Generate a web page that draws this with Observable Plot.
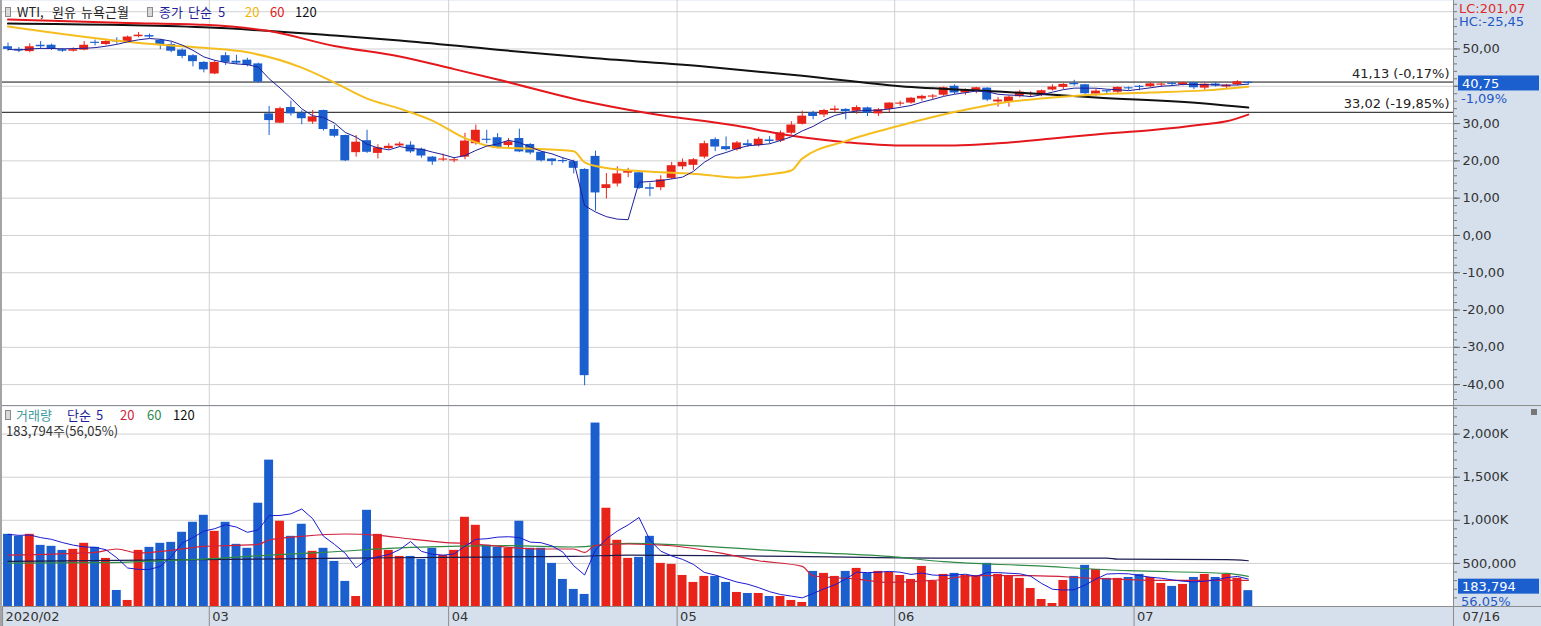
<!DOCTYPE html>
<html><head><meta charset="utf-8">
<script src="https://cdn.jsdelivr.net/npm/d3@7"></script>
<script src="https://cdn.jsdelivr.net/npm/@observablehq/plot@0.6"></script>
<style>
body{margin:0;background:#fff;}
#wrap{position:relative;width:1541px;height:626px;overflow:hidden;background:#fff;font-family:'DejaVu Sans','Noto Sans CJK KR',sans-serif;}
.abs{position:absolute;}
.ov{position:absolute;font-size:13px;white-space:nowrap;line-height:13px;font-family:'Noto Sans CJK KR','DejaVu Sans',sans-serif;z-index:5;}
.num{font-family:'DejaVu Sans','Noto Sans CJK KR',sans-serif;font-size:13px;line-height:13px;}
.ico{position:absolute;width:4px;height:8px;border:1px solid #8a8a8a;background:#d8d8d8;z-index:5;}
.ln{position:absolute;background:#8c8c8c;z-index:6;}
</style></head>
<body><div id="wrap">
  <div id="price" class="abs" style="left:0;top:0"></div>
  <div id="vol" class="abs" style="left:0;top:406px"></div>
  <div id="dates" class="abs" style="left:0;top:607px"></div>

  <div class="ln" style="left:0;top:405px;width:1541px;height:1px"></div>
  <div class="ln" style="left:0;top:606px;width:1541px;height:1px"></div>
  <div class="ln" style="left:1453px;top:0;width:1px;height:626px"></div>
  <div class="ln" style="left:0;top:0;width:2px;height:626px;background:#a4a4a4"></div>

  <div class="ico" style="left:5px;top:7px"></div>
  <div class="ov" style="left:17px;top:5px;color:#222">WTI,</div>
  <div class="ov" style="left:52px;top:5px;color:#222">원유</div>
  <div class="ov" style="left:81px;top:5px;color:#222">뉴욕근월</div>
  <div class="ico" style="left:147px;top:7px"></div>
  <div class="ov" style="left:159px;top:5px;color:#1f1f9a">종가</div>
  <div class="ov" style="left:188px;top:5px;color:#1f1f9a">단순</div>
  <div class="ov" style="left:218px;top:5px;color:#1f1f9a">5</div>
  <div class="ov" style="left:245px;top:5px;color:#f0b400">20</div>
  <div class="ov" style="left:270px;top:5px;color:#e02020">60</div>
  <div class="ov" style="left:295px;top:5px;color:#111">120</div>

  <div class="ov num" style="left:1459px;top:2px;color:#e02828">LC:201,07</div>
  <div class="ov num" style="left:1459px;top:15px;color:#2458c8">HC:-25,45</div>

  <div class="ico" style="left:5px;top:410px"></div>
  <div class="ov" style="left:16px;top:408px;color:#3d9a9a">거래량</div>
  <div class="ov" style="left:67px;top:408px;color:#1f1f9a">단순</div>
  <div class="ov" style="left:96px;top:408px;color:#1f1f9a">5</div>
  <div class="ov" style="left:120px;top:408px;color:#d0203a">20</div>
  <div class="ov" style="left:147px;top:408px;color:#2e8a50">60</div>
  <div class="ov" style="left:173px;top:408px;color:#111">120</div>
  <div class="ov" id="volinfo" style="left:6px;top:424px;color:#333"></div>
  <div class="abs" style="left:1531px;top:409px;width:6px;height:6px;background:#777;z-index:6"></div>
</div>
<script>
const RED = "#e8241a", BLUE = "#1b5fcf";
const W = 1541, MR = 88;
const X_DOMAIN = [-0.69, 132.86];
const FONT = "font:13px 'DejaVu Sans','Noto Sans CJK KR',sans-serif;";

// ---- price data (bar index 0 = 2020-02-03 ... 114 = 2020-07-16) ----
const open = [50.6,49.9,49.3,51.0,51.0,49.8,49.4,49.7,51.8,51.2,
  52.3,51.9,53.3,53.6,52.3,51.2,49.7,48.2,46.4,43.3,
  48.2,46.7,47.0,46.0,32.6,30.1,34.3,32.8,30.4,33.5,
  28.4,26.8,22.2,25.4,22.0,23.3,24.0,24.2,23.1,21.0,
  20.2,20.0,21.0,24.6,25.8,26.2,24.1,26.0,24.4,22.3,
  20.5,20.1,19.8,17.7,21.2,12.6,13.8,16.7,16.8,12.8,
  12.8,15.3,18.4,18.8,21.0,25.7,23.8,23.0,24.6,24.1,
  25.6,25.3,27.4,29.8,32.9,32.3,33.5,33.8,33.3,34.2,
  32.6,33.8,35.3,35.5,36.6,37.1,37.6,40.0,38.2,38.9,
  39.5,35.8,35.7,37.2,37.8,37.8,39.0,39.7,40.8,40.4,
  37.9,38.8,38.4,39.6,39.9,39.9,40.3,40.7,40.4,40.9,
  39.5,40.6,39.8,40.4,41.1];
const high = [51.6,50.4,51.4,52.0,51.3,50.1,50.3,52.0,52.4,52.6,
  53.0,53.5,54.4,54.0,52.6,51.8,50.0,48.5,46.6,46.8,
  49.0,48.3,47.5,46.2,34.6,34.4,36.0,33.4,33.5,33.6,
  29.5,26.9,26.8,28.2,24.3,24.6,25.0,25.1,23.4,21.2,
  21.8,20.8,27.4,29.6,28.2,27.3,26.0,28.5,24.6,22.4,
  20.6,20.8,20.2,17.9,22.6,16.6,18.4,18.0,17.2,14.0,
  16.0,19.6,20.5,20.6,25.3,26.2,26.4,25.2,25.6,26.3,
  26.5,28.0,30.5,33.3,33.3,33.8,34.7,34.0,34.8,34.4,
  34.0,35.6,36.0,37.0,37.6,37.8,39.8,40.4,39.3,39.7,
  39.6,37.0,37.4,38.9,38.5,39.0,40.4,40.7,41.6,40.5,
  39.2,38.9,39.8,39.8,40.2,41.0,40.9,41.0,41.1,41.0,
  40.7,41.0,40.5,41.5,41.2];
const low = [49.4,49.0,49.0,49.9,49.6,49.1,49.2,49.5,50.8,50.9,
  51.3,51.6,53.0,52.8,49.8,49.0,47.4,45.2,43.6,43.1,
  45.6,45.8,45.2,40.8,26.8,30.0,32.0,29.7,29.8,28.0,
  26.2,19.8,21.0,22.0,20.5,23.0,23.6,22.0,20.7,18.8,
  19.8,19.5,20.3,24.2,24.6,23.2,23.6,22.2,21.6,19.7,
  18.7,19.3,16.5,-40.3,6.5,9.8,13.0,15.5,12.3,10.4,
  12.0,15.0,17.6,17.4,20.5,22.5,22.6,22.6,23.6,23.7,
  24.5,24.9,27.0,29.6,31.0,31.6,32.9,31.0,32.5,31.9,
  31.9,32.9,34.6,35.2,36.0,36.4,37.3,37.8,37.6,38.0,
  35.9,34.4,34.4,36.9,37.0,37.2,38.7,39.1,40.0,37.8,
  37.3,37.9,37.8,38.9,38.8,39.6,39.7,40.0,40.1,39.1,
  38.9,39.8,39.3,40.1,40.4];
const close = [49.9,49.5,50.6,50.6,50.1,49.4,49.8,51.0,51.5,52.0,
  51.9,53.2,53.7,53.2,51.0,49.4,48.0,46.6,44.4,46.4,
  46.4,46.2,45.6,41.1,30.8,34.0,32.6,31.3,31.8,28.4,
  26.6,20.0,25.0,22.3,23.5,23.9,24.5,22.4,21.3,19.7,
  20.5,20.3,25.3,28.2,25.5,23.4,25.1,22.4,22.1,20.0,
  19.8,19.8,18.0,-37.6,11.4,13.6,16.5,17.2,12.6,12.4,
  14.9,18.7,19.6,20.3,24.6,23.7,23.0,24.8,24.1,25.8,
  25.2,27.5,29.6,32.0,31.9,33.5,33.9,33.2,34.3,32.8,
  33.7,35.5,35.4,36.8,37.3,37.4,39.6,38.2,38.9,39.6,
  36.3,36.3,37.1,38.4,38.0,38.8,39.8,40.5,40.4,38.0,
  38.7,38.5,39.7,39.3,39.8,40.65,40.6,40.6,40.9,39.6,
  40.55,40.1,40.3,41.2,40.75];
const volume = [837000,814000,837000,709000,698000,651000,663000,733000,686000,558000,
  186000,70000,651000,686000,733000,744000,861000,977000,1058000,872000,
  977000,721000,675000,1198000,1698000,989000,814000,954000,640000,675000,
  523000,291000,116000,1116000,837000,651000,581000,581000,547000,675000,
  593000,651000,1035000,942000,709000,686000,675000,989000,675000,675000,
  500000,314000,198000,140000,2128000,1140000,768000,558000,570000,814000,
  500000,488000,360000,279000,349000,349000,279000,163000,151000,151000,
  116000,116000,70000,47000,407000,384000,349000,407000,442000,384000,
  407000,395000,360000,314000,465000,291000,372000,384000,360000,349000,
  500000,372000,349000,326000,209000,81000,35000,302000,349000,477000,
  430000,326000,326000,337000,372000,337000,267000,233000,256000,337000,
  372000,337000,372000,327900,183794];

// month labels (first bar index of each month)
const monthStart = [0, 19, 41, 62, 82, 104];
const monthLabel = ["2020/02", "03", "04", "05", "06", "07"];
const lastDate = "07/16";

// price moving averages (bar index, value)
const ma20Idx = [0,12,18,22,27,30,33,36,39,42,45,48,52,53,55,58,61,64,67,70,72,73,77,82,87,91,96,100,105,110,114];
const ma20Val = [56.0,51.6,50.3,49.1,45.0,41.0,36.7,34.0,30.8,26.1,23.6,23.3,22.6,19.6,18.1,17.3,16.8,16.3,15.5,16.4,17.4,20.6,25.3,29.5,33.1,35.4,37.0,37.8,38.3,38.9,39.9];
const ma60Idx = [0,11,18,24,30,36,41,45,53,59,67,71,73,77,82,87,91,96,100,105,110,112,114];
const ma60Val = [57.9,57.0,56.5,54.8,50.8,48.0,44.6,41.8,36.0,32.7,29.4,27.2,26.3,25.0,24.1,24.1,24.7,26.0,27.1,28.2,29.8,30.6,32.4];
const ma120Idx = [0,18,30,36,45,54,64,73,82,91,100,110,114];
const ma120Val = [56.8,55.8,53.6,52.3,49.8,47.5,45.3,42.8,40.0,38.6,37.0,35.4,34.3];

// volume moving averages (thousands)
const vma20Idx = [0,8,10,12,15,18,21,23,24,27,31,34,37,40,43,46,49,52,53,54,57,61,66,69,73,74,78,81,85,89,94,100,106,114];
const vma20Val = [597,628,667,620,651,698,709,721,771,814,841,826,783,744,725,686,667,667,628,709,725,705,608,531,465,357,318,279,302,357,357,326,302,302];
const vma60Idx = [0,9,15,18,24,29,37,46,52,57,72,81,86,94,103,112,114];
const vma60Val = [504,510,535,550,597,628,686,705,690,733,636,581,520,473,415,384,349];
const vma120Idx = [0,29,40,52,57,72,86,101,102,112,114];
const vma120Val = [523,558,570,581,597,581,562,562,550,543,531];

// horizontal levels
const levels = [41.13, 33.02];
const priceTicks = [-40,-30,-20,-10,0,10,20,30,40,50];
const priceGrid = [-40,-30,-20,-10,0,10,20,30,40,50,60];
const volTicks = [500000, 1000000, 1500000, 2000000];

// ---- derived tables ----
const idx = d3.range(close.length);
const candles = idx.map(i => {
  const o = open[i], c = close[i];
  let b1 = Math.min(o, c), b2 = Math.max(o, c);
  if (b2 - b1 < 0.3) { const m = (b1 + b2) / 2; b1 = m - 0.15; b2 = m + 0.15; }
  return {i, o, c, h: high[i], l: low[i], b1, b2, x1: i - 0.41, x2: i + 0.41, col: c > o ? RED : BLUE};
});
const vols = idx.map(i => ({i, v: volume[i], z: 0, x1: i - 0.41, x2: i + 0.41, col: candles[i].col}));
const pairs = (a, b, k = 1) => a.map((x, j) => ({i: x, v: b[j] * k}));
const months = monthStart.map((s, j) => ({b: s - 0.5, label: monthLabel[j]}));
const bounds = months.slice(1).map(d => d.b);

const fmt2 = v => v.toFixed(2).replace(".", ",");
const fmtC = d3.format(",");
const lastC = close[close.length - 1], prevC = close[close.length - 2];
const lastV = volume[volume.length - 1], prevV = volume[volume.length - 2];
const levelData = levels.map(v => ({v, label: `${fmt2(v)} (${fmt2((v / prevC - 1) * 100)}%)`}));
const pct = fmt2((lastC / prevC - 1) * 100) + "%";
const vpct = fmt2(lastV / prevV * 100) + "%";
document.getElementById("volinfo").textContent = `${fmtC(lastV)}주(${vpct})`;

function tag(value, label, sub, offset) {
  return (index, scales, values, dims) => {
    const y = scales.y(value) + offset;
    const x0 = dims.width - dims.marginRight + 5;
    const g = d3.create("svg:g").attr("text-anchor", "start");
    g.append("rect").attr("x", x0).attr("y", y - 7.5).attr("width", 81).attr("height", 15).attr("fill", "#1b5fcf");
    g.append("text").attr("text-anchor", "start").attr("x", x0 + 4).attr("y", y).attr("dy", "0.36em").attr("fill", "white").text(label);
    g.append("text").attr("text-anchor", "start").attr("x", x0 + 3).attr("y", y + 15).attr("dy", "0.36em").attr("fill", "#2458c8").text(sub);
    return g.node();
  };
}

// ---- price panel ----
const price = Plot.plot({
  width: W, height: 405, marginLeft: 0, marginRight: MR, marginTop: 0, marginBottom: 0,
  style: "background:#d6e0ec;color:#333;overflow:visible;" + FONT,
  x: {domain: X_DOMAIN, axis: null},
  y: {domain: [-45.6, 63]},
  color: {type: "identity"},
  marks: [
    Plot.frame({fill: "white", stroke: "none"}),
    Plot.gridY(priceGrid, {stroke: "#d0d0d0", strokeOpacity: 1}),
    Plot.gridX(bounds, {stroke: "#d0d0d0", strokeOpacity: 1}),
    Plot.ruleY(levelData, {y: "v", stroke: "#111", strokeWidth: 1}),
    Plot.ruleX(candles, {x: "i", y1: "l", y2: "h", stroke: "col", strokeWidth: 1}),
    Plot.rect(candles, {x1: "x1", x2: "x2", y1: "b1", y2: "b2", fill: "col"}),
    Plot.line(pairs(ma120Idx, ma120Val), {x: "i", y: "v", stroke: "#111", strokeWidth: 2, curve: "monotone-x"}),
    Plot.line(pairs(ma60Idx, ma60Val), {x: "i", y: "v", stroke: "#e4181c", strokeWidth: 2, curve: "monotone-x"}),
    Plot.line(pairs(ma20Idx, ma20Val), {x: "i", y: "v", stroke: "#f5be1e", strokeWidth: 2, curve: "monotone-x"}),
    Plot.lineY(candles, Plot.windowY({k: 5, anchor: "end"}, {x: "i", y: "c", stroke: "#1f1f9a", strokeWidth: 1})),
    Plot.text(levelData, {y: "v", text: "label", frameAnchor: "right", textAnchor: "end", dx: -4, dy: -8, fill: "#222"}),
    Plot.axisY({anchor: "right", ticks: d3.range(-44, 63, 2), tickSize: 3, tickFormat: () => "", stroke: "#777"}),
    Plot.axisY({anchor: "right", ticks: priceTicks, tickSize: 6, tickPadding: 3, tickFormat: fmt2, stroke: "#666", fill: "#333"}),
    tag(lastC, fmt2(lastC), pct, 0)
  ]
});
document.getElementById("price").append(price);

// ---- volume panel ----
const vol = Plot.plot({
  width: W, height: 200, marginLeft: 0, marginRight: MR, marginTop: 0, marginBottom: 0,
  style: "background:#d6e0ec;color:#333;overflow:visible;" + FONT,
  x: {domain: X_DOMAIN, axis: null},
  y: {domain: [0, 2320000]},
  color: {type: "identity"},
  marks: [
    Plot.frame({fill: "white", stroke: "none"}),
    Plot.gridY(volTicks, {stroke: "#d0d0d0", strokeOpacity: 1}),
    Plot.gridX(bounds, {stroke: "#d0d0d0", strokeOpacity: 1}),
    Plot.rect(vols, {x1: "x1", x2: "x2", y1: "z", y2: "v", fill: "col"}),
    Plot.line(pairs(vma120Idx, vma120Val, 1000), {x: "i", y: "v", stroke: "#1c1c50", strokeWidth: 1.2, curve: "monotone-x"}),
    Plot.line(pairs(vma60Idx, vma60Val, 1000), {x: "i", y: "v", stroke: "#2e8a45", strokeWidth: 1.2, curve: "monotone-x"}),
    Plot.line(pairs(vma20Idx, vma20Val, 1000), {x: "i", y: "v", stroke: "#d0203a", strokeWidth: 1.2, curve: "monotone-x"}),
    Plot.lineY(vols, Plot.windowY({k: 5, anchor: "end"}, {x: "i", y: "v", stroke: "#1a1ad0", strokeWidth: 1})),
    Plot.axisY({anchor: "right", ticks: d3.range(100000, 2300001, 100000), tickSize: 3, tickFormat: () => "", stroke: "#777"}),
    Plot.axisY({anchor: "right", ticks: volTicks, tickSize: 6, tickPadding: 3, stroke: "#666", fill: "#333",
      tickFormat: d => d >= 1000000 ? fmtC(d / 1000) + "K" : fmtC(d)}),
    tag(lastV, fmtC(lastV), vpct, -4)
  ]
});
document.getElementById("vol").append(vol);

// ---- date axis ----
const dates = Plot.plot({
  width: W, height: 19, marginLeft: 0, marginRight: MR, marginTop: 0, marginBottom: 0,
  style: "background:#d6e0ec;color:#333;overflow:visible;" + FONT,
  x: {domain: X_DOMAIN, axis: null},
  marks: [
    Plot.ruleX(months, {x: "b", stroke: "#8c8c8c"}),
    Plot.text(months, {x: "b", text: "label", textAnchor: "start", dx: 3, fill: "#333"}),
    Plot.text([lastDate], {text: d => d, frameAnchor: "right", textAnchor: "start", dx: 9, fill: "#333"})
  ]
});
document.getElementById("dates").append(dates);
</script>
</body></html>
